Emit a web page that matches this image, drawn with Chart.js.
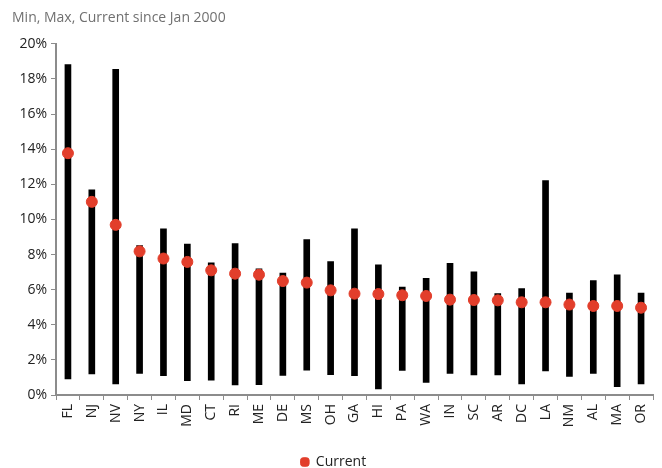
<!DOCTYPE html>
<html>
<head>
<meta charset="utf-8">
<script src="https://cdn.jsdelivr.net/npm/chart.js@4"></script>
<style>
  html, body { margin: 0; padding: 0; background: #fff; }
  #wrap { width: 662px; height: 468px; }
</style>
</head>
<body>
<div id="wrap"><canvas id="chart" width="662" height="468"></canvas></div>
<script>
// States in reference order (sorted by current rate)
const states = ['FL', 'NJ', 'NV', 'NY', 'IL', 'MD', 'CT', 'RI', 'ME', 'DE', 'MS', 'OH', 'GA',
                'HI', 'PA', 'WA', 'IN', 'SC', 'AR', 'DC', 'LA', 'NM', 'AL', 'MA', 'OR'];
const minValues = [0.91, 1.20, 0.63, 1.23, 1.10, 0.81, 0.85, 0.57, 0.59, 1.12, 1.42, 1.16, 1.10,
                   0.34, 1.40, 0.72, 1.23, 1.14, 1.14, 0.63, 1.37, 1.06, 1.23, 0.47, 0.63];
const maxValues = [18.82, 11.68, 18.54, 8.51, 9.46, 8.60, 7.52, 8.62, 7.18, 6.95, 8.85, 7.60, 9.46,
                   7.41, 6.15, 6.65, 7.50, 7.01, 5.77, 6.06, 12.21, 5.81, 6.51, 6.85, 5.81];
const currentValues = [13.77, 11.00, 9.69, 8.18, 7.77, 7.58, 7.10, 6.91, 6.85, 6.49, 6.40, 5.96, 5.77,
                       5.75, 5.68, 5.64, 5.43, 5.41, 5.39, 5.28, 5.28, 5.15, 5.07, 5.07, 4.97];

const fontFamily = "'Open Sans', 'Liberation Sans', sans-serif";
const axisGray = '#8c8c8c';

const ranges = states.map((s, i) => [minValues[i], maxValues[i]]);

new Chart(document.getElementById('chart'), {
    type: 'bar',
    data: {
        labels: states,
        datasets: [
            {
                type: 'line',
                label: 'Current',
                data: currentValues,
                showLine: false,
                pointStyle: 'circle',
                pointRadius: 5.5,
                pointHoverRadius: 5.5,
                pointBackgroundColor: '#e23e2b',
                pointBorderColor: '#e23e2b',
                backgroundColor: '#e23e2b',
                borderColor: '#e23e2b',
                order: 0
            },
            {
                label: 'Range',
                data: ranges,
                backgroundColor: '#000',
                borderSkipped: false,
                barThickness: 6,
                order: 1
            }
        ]
    },
    options: {
        responsive: false,
        animation: false,
        layout: { padding: { left: 12, right: 7, top: 0, bottom: -11 } },
        plugins: {
            title: {
                display: true,
                text: 'Min, Max, Current since Jan 2000',
                align: 'start',
                color: '#707070',
                font: { family: fontFamily, size: 14, weight: 'normal' },
                padding: { top: 10, bottom: 17 }
            },
            legend: {
                position: 'bottom',
                labels: {
                    filter: (item) => item.text === 'Current',
                    usePointStyle: true,
                    pointStyle: 'rectRounded',
                    boxWidth: 8,
                    boxHeight: 7,
                    padding: 2,
                    color: '#222',
                    font: { family: fontFamily, size: 14 }
                }
            },
            tooltip: { enabled: false }
        },
        scales: {
            x: {
                afterFit: (scale) => { scale.height = 58; },
                grid: {
                    display: true,
                    drawOnChartArea: false,
                    drawTicks: true,
                    tickLength: 5,
                    color: axisGray,
                    offset: true
                },
                border: { color: axisGray, width: 2 },
                ticks: {
                    minRotation: 90,
                    maxRotation: 90,
                    autoSkip: false,
                    color: '#222',
                    font: { family: fontFamily, size: 14 },
                    padding: 4
                }
            },
            y: {
                min: 0,
                max: 20,
                afterFit: (scale) => { scale.width = 44; },
                grid: {
                    display: true,
                    drawOnChartArea: false,
                    drawTicks: true,
                    tickLength: 5,
                    color: axisGray
                },
                border: { color: axisGray, width: 2 },
                ticks: {
                    stepSize: 2,
                    color: '#222',
                    font: { family: fontFamily, size: 14 },
                    padding: 4,
                    callback: (v) => v + '%'
                }
            }
        }
    }
});
</script>
</body>
</html>
